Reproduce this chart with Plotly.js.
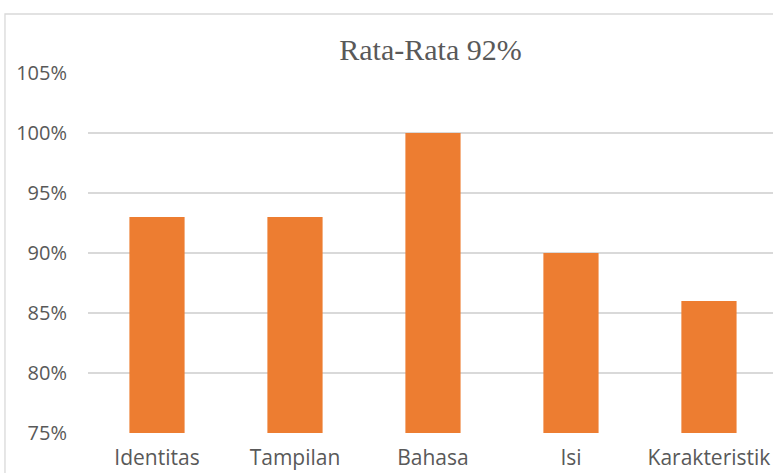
<!DOCTYPE html>
<html>
<head>
<meta charset="utf-8">
<script src="https://cdn.plot.ly/plotly-3.0.1.min.js"></script>
<style>
html,body{margin:0;padding:0;background:#fff;}
#chart{width:773px;height:473px;}
</style>
</head>
<body>
<div id="chart"></div>
<script>
const categories = ["Identitas", "Tampilan", "Bahasa", "Isi", "Karakteristik"];
const values = [93, 93, 100, 90, 86];
const yTickVals = [75, 80, 85, 90, 95, 100, 105];
const yTickText = ["75%", "80%", "85%", "90%", "95%", "100%", "105%"];
const chartTitle = "Rata-Rata 92%";

const trace = {
  type: "bar",
  x: categories,
  y: values,
  marker: { color: "#ED7D31" },
  width: 0.4,
  hoverinfo: "x+y"
};

const layout = {
  width: 773,
  height: 473,
  margin: { l: 88, r: 0, t: 73, b: 40 },
  paper_bgcolor: "#ffffff",
  plot_bgcolor: "#ffffff",
  showlegend: false,
  title: {
    text: chartTitle,
    font: { family: "Liberation Serif, serif", size: 30, color: "#595959" },
    x: 0.5, xref: "paper", xanchor: "center",
    y: 0.895, yanchor: "middle"
  },
  xaxis: {
    type: "category",
    range: [-0.5, 4.464],
    showgrid: false,
    zeroline: false,
    showline: false,
    ticks: "",
    ticklabelstandoff: 10,
    tickfont: { family: "Open Sans, sans-serif", size: 21, color: "#595959" },
    automargin: false
  },
  yaxis: {
    range: [75, 105],
    tickvals: yTickVals,
    ticktext: yTickText,
    showgrid: true,
    gridcolor: "#d9d9d9",
    gridwidth: 1.3,
    zeroline: false,
    showline: false,
    ticks: "",
    ticklabelstandoff: 20,
    tickfont: { family: "Open Sans, sans-serif", size: 20, color: "#595959" },
    automargin: false
  },
  shapes: [{
    type: "rect",
    xref: "paper", yref: "paper",
    x0: -0.1212, x1: 1.2, y0: -0.3, y1: 1.1639,
    line: { color: "#d9d9d9", width: 1.3 },
    fillcolor: "rgba(0,0,0,0)",
    layer: "below"
  }]
};

Plotly.newPlot("chart", [trace], layout, { displayModeBar: false, staticPlot: true });
</script>
</body>
</html>
